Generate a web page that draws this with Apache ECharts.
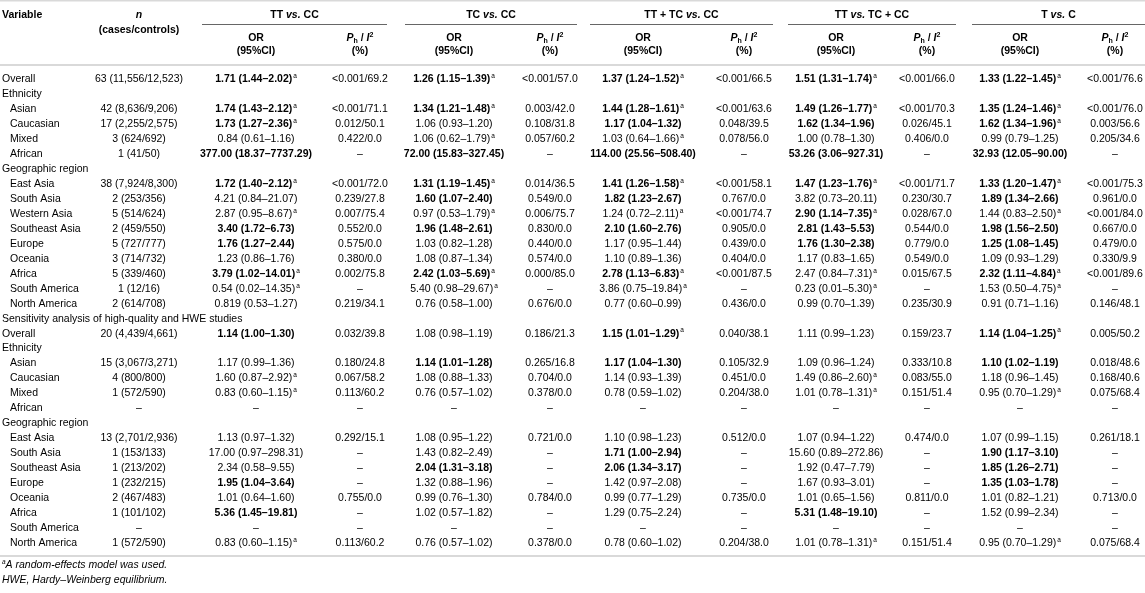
<!DOCTYPE html>
<html><head><meta charset="utf-8">
<script src="https://cdn.jsdelivr.net/npm/echarts@6/dist/echarts.min.js"></script>
<style>html,body{margin:0;padding:0;background:#fff}#c{width:1145px;height:593px}</style>
</head><body><div id="c"></div>
<script>
// ---------------- data ----------------
const rowLabels = ['Overall','Ethnicity','Asian','Caucasian','Mixed','African','Geographic region','East Asia','South Asia','Western Asia','Southeast Asia','Europe','Oceania','Africa','South America','North America','Sensitivity analysis of high-quality and HWE studies','Overall','Ethnicity','Asian','Caucasian','Mixed','African','Geographic region','East Asia','South Asia','Southeast Asia','Europe','Oceania','Africa','South America','North America'];
const nStudies = ['63 (11,556/12,523)',null,'42 (8,636/9,206)','17 (2,255/2,575)','3 (624/692)','1 (41/50)',null,'38 (7,924/8,300)','2 (253/356)','5 (514/624)','2 (459/550)','5 (727/777)','3 (714/732)','5 (339/460)','1 (12/16)','2 (614/708)',null,'20 (4,439/4,661)',null,'15 (3,067/3,271)','4 (800/800)','1 (572/590)','–',null,'13 (2,701/2,936)','1 (153/133)','1 (213/202)','1 (232/215)','2 (467/483)','1 (101/102)','–','1 (572/590)'];
// "^a" marks footnote a (random-effects model)
const orTTvsCC = ['1.71 (1.44–2.02)^a',null,'1.74 (1.43–2.12)^a','1.73 (1.27–2.36)^a','0.84 (0.61–1.16)','377.00 (18.37–7737.29)',null,'1.72 (1.40–2.12)^a','4.21 (0.84–21.07)','2.87 (0.95–8.67)^a','3.40 (1.72–6.73)','1.76 (1.27–2.44)','1.23 (0.86–1.76)','3.79 (1.02–14.01)^a','0.54 (0.02–14.35)^a','0.819 (0.53–1.27)',null,'1.14 (1.00–1.30)',null,'1.17 (0.99–1.36)','1.60 (0.87–2.92)^a','0.83 (0.60–1.15)^a','–',null,'1.13 (0.97–1.32)','17.00 (0.97–298.31)','2.34 (0.58–9.55)','1.95 (1.04–3.64)','1.01 (0.64–1.60)','5.36 (1.45–19.81)','–','0.83 (0.60–1.15)^a'];
const phTTvsCC = ['<0.001/69.2',null,'<0.001/71.1','0.012/50.1','0.422/0.0','–',null,'<0.001/72.0','0.239/27.8','0.007/75.4','0.552/0.0','0.575/0.0','0.380/0.0','0.002/75.8','–','0.219/34.1',null,'0.032/39.8',null,'0.180/24.8','0.067/58.2','0.113/60.2','–',null,'0.292/15.1','–','–','–','0.755/0.0','–','–','0.113/60.2'];
const orTCvsCC = ['1.26 (1.15–1.39)^a',null,'1.34 (1.21–1.48)^a','1.06 (0.93–1.20)','1.06 (0.62–1.79)^a','72.00 (15.83–327.45)',null,'1.31 (1.19–1.45)^a','1.60 (1.07–2.40)','0.97 (0.53–1.79)^a','1.96 (1.48–2.61)','1.03 (0.82–1.28)','1.08 (0.87–1.34)','2.42 (1.03–5.69)^a','5.40 (0.98–29.67)^a','0.76 (0.58–1.00)',null,'1.08 (0.98–1.19)',null,'1.14 (1.01–1.28)','1.08 (0.88–1.33)','0.76 (0.57–1.02)','–',null,'1.08 (0.95–1.22)','1.43 (0.82–2.49)','2.04 (1.31–3.18)','1.32 (0.88–1.96)','0.99 (0.76–1.30)','1.02 (0.57–1.82)','–','0.76 (0.57–1.02)'];
const phTCvsCC = ['<0.001/57.0',null,'0.003/42.0','0.108/31.8','0.057/60.2','–',null,'0.014/36.5','0.549/0.0','0.006/75.7','0.830/0.0','0.440/0.0','0.574/0.0','0.000/85.0','–','0.676/0.0',null,'0.186/21.3',null,'0.265/16.8','0.704/0.0','0.378/0.0','–',null,'0.721/0.0','–','–','–','0.784/0.0','–','–','0.378/0.0'];
const orDominant = ['1.37 (1.24–1.52)^a',null,'1.44 (1.28–1.61)^a','1.17 (1.04–1.32)','1.03 (0.64–1.66)^a','114.00 (25.56–508.40)',null,'1.41 (1.26–1.58)^a','1.82 (1.23–2.67)','1.24 (0.72–2.11)^a','2.10 (1.60–2.76)','1.17 (0.95–1.44)','1.10 (0.89–1.36)','2.78 (1.13–6.83)^a','3.86 (0.75–19.84)^a','0.77 (0.60–0.99)',null,'1.15 (1.01–1.29)^a',null,'1.17 (1.04–1.30)','1.14 (0.93–1.39)','0.78 (0.59–1.02)','–',null,'1.10 (0.98–1.23)','1.71 (1.00–2.94)','2.06 (1.34–3.17)','1.42 (0.97–2.08)','0.99 (0.77–1.29)','1.29 (0.75–2.24)','–','0.78 (0.60–1.02)'];
const phDominant = ['<0.001/66.5',null,'<0.001/63.6','0.048/39.5','0.078/56.0','–',null,'<0.001/58.1','0.767/0.0','<0.001/74.7','0.905/0.0','0.439/0.0','0.404/0.0','<0.001/87.5','–','0.436/0.0',null,'0.040/38.1',null,'0.105/32.9','0.451/0.0','0.204/38.0','–',null,'0.512/0.0','–','–','–','0.735/0.0','–','–','0.204/38.0'];
const orRecessive = ['1.51 (1.31–1.74)^a',null,'1.49 (1.26–1.77)^a','1.62 (1.34–1.96)','1.00 (0.78–1.30)','53.26 (3.06–927.31)',null,'1.47 (1.23–1.76)^a','3.82 (0.73–20.11)','2.90 (1.14–7.35)^a','2.81 (1.43–5.53)','1.76 (1.30–2.38)','1.17 (0.83–1.65)','2.47 (0.84–7.31)^a','0.23 (0.01–5.30)^a','0.99 (0.70–1.39)',null,'1.11 (0.99–1.23)',null,'1.09 (0.96–1.24)','1.49 (0.86–2.60)^a','1.01 (0.78–1.31)^a','–',null,'1.07 (0.94–1.22)','15.60 (0.89–272.86)','1.92 (0.47–7.79)','1.67 (0.93–3.01)','1.01 (0.65–1.56)','5.31 (1.48–19.10)','–','1.01 (0.78–1.31)^a'];
const phRecessive = ['<0.001/66.0',null,'<0.001/70.3','0.026/45.1','0.406/0.0','–',null,'<0.001/71.7','0.230/30.7','0.028/67.0','0.544/0.0','0.779/0.0','0.549/0.0','0.015/67.5','–','0.235/30.9',null,'0.159/23.7',null,'0.333/10.8','0.083/55.0','0.151/51.4','–',null,'0.474/0.0','–','–','–','0.811/0.0','–','–','0.151/51.4'];
const orAllele = ['1.33 (1.22–1.45)^a',null,'1.35 (1.24–1.46)^a','1.62 (1.34–1.96)^a','0.99 (0.79–1.25)','32.93 (12.05–90.00)',null,'1.33 (1.20–1.47)^a','1.89 (1.34–2.66)','1.44 (0.83–2.50)^a','1.98 (1.56–2.50)','1.25 (1.08–1.45)','1.09 (0.93–1.29)','2.32 (1.11–4.84)^a','1.53 (0.50–4.75)^a','0.91 (0.71–1.16)',null,'1.14 (1.04–1.25)^a',null,'1.10 (1.02–1.19)','1.18 (0.96–1.45)','0.95 (0.70–1.29)^a','–',null,'1.07 (0.99–1.15)','1.90 (1.17–3.10)','1.85 (1.26–2.71)','1.35 (1.03–1.78)','1.01 (0.82–1.21)','1.52 (0.99–2.34)','–','0.95 (0.70–1.29)^a'];
const phAllele = ['<0.001/76.6',null,'<0.001/76.0','0.003/56.6','0.205/34.6','–',null,'<0.001/75.3','0.961/0.0','<0.001/84.0','0.667/0.0','0.479/0.0','0.330/9.9','<0.001/89.6','–','0.146/48.1',null,'0.005/50.2',null,'0.018/48.6','0.168/40.6','0.075/68.4','–',null,'0.261/18.1','–','–','–','0.713/0.0','–','–','0.075/68.4'];
const comparisonTitles = [['TT','vs.','CC'],['TC','vs.','CC'],['TT + TC','vs.','CC'],['TT','vs.','TC + CC'],['T','vs.','C']];
const footnoteA = 'A random-effects model was used.';
const footnoteHWE = 'HWE, Hardy–Weinberg equilibrium.';

// ---------------- layout / style ----------------
const FONT = '"Liberation Sans", Arial, Helvetica, sans-serif';
const FS = 10.5;
const colX = [2, 139, 256, 360, 454, 550, 643, 744, 836, 927, 1020, 1115];
const groupSpan = [[202,387],[405,577],[590,773],[788,956],[972,1145]];
const INDENT = 8;
const C_REG = '#666666', C_BOLD = '#151515', C_HEAD = '#2a2a2a', C_LINE = '#d9d9d9';

const columns = [nStudies, orTTvsCC, phTTvsCC, orTCvsCC, phTCvsCC, orDominant, phDominant, orRecessive, phRecessive, orAllele, phAllele];
const OR_COLS = [2, 4, 6, 8, 10];

const rich = {
  r:  {fontFamily: FONT, fontSize: FS, color: C_REG, lineHeight: 13},
  b:  {fontFamily: FONT, fontSize: FS, fontWeight: 'bold', color: C_BOLD, lineHeight: 13},
  rs: {fontFamily: FONT, fontSize: 6.5, color: C_REG, lineHeight: 7, verticalAlign: 'top', padding: [0,0,0,1]},
  bs: {fontFamily: FONT, fontSize: 6.5, color: C_BOLD, lineHeight: 7, verticalAlign: 'top', padding: [0,0,0,1]}
};

function isSignificant(core) {
  const m = core.match(/\(([\d.]+)–/);
  return !!m && parseFloat(m[1]) >= 1;
}
function cellRich(c, r) {
  if (c === 0) return '{r|' + rowLabels[r] + '}';
  const v = columns[c - 1][r];
  const sup = v.endsWith('^a');
  const core = sup ? v.slice(0, -2) : v;
  const bold = OR_COLS.includes(c) && isSignificant(core);
  const k = bold ? 'b' : 'r';
  return '{' + k + '|' + core + '}' + (sup ? '{' + k + 's|a}' : '');
}

const cells = [];
rowLabels.forEach((lab, r) => {
  cells.push([0, r]);
  columns.forEach((arr, ci) => { if (arr[r] != null) cells.push([ci + 1, r]); });
});

// ---------------- header graphics ----------------
const hRich = {
  h:  {fontFamily: FONT, fontSize: FS, fontWeight: 'bold', color: C_HEAD, lineHeight: 13},
  hi: {fontFamily: FONT, fontSize: FS, fontWeight: 'bold', fontStyle: 'italic', color: C_HEAD, lineHeight: 13},
  sub:{fontFamily: FONT, fontSize: 7, fontWeight: 'bold', color: C_HEAD, lineHeight: 7, verticalAlign: 'bottom'},
  sup:{fontFamily: FONT, fontSize: 7, fontWeight: 'bold', color: C_HEAD, lineHeight: 7, verticalAlign: 'top'},
  fi: {fontFamily: FONT, fontSize: FS, fontStyle: 'italic', color: C_REG, lineHeight: 13},
  fs: {fontFamily: FONT, fontSize: 6.5, fontStyle: 'italic', color: C_REG, lineHeight: 7, verticalAlign: 'top'}
};
function hText(x, y, text, align) {
  return {type: 'text', x: x, y: y, style: {text: text, rich: hRich, align: align || 'center', verticalAlign: 'middle'}};
}
const Y_T1 = 15, Y_GL = 24, Y_CC = 30, Y_T2 = 38, Y_T3 = 51, Y_HL = 65, Y_BL = 556, Y_F1 = 565, Y_F2 = 580;
const graphics = [
  {type: 'rect', shape: {x: 0, y: 0, width: 1145, height: 1.5}, style: {fill: C_LINE}},
  {type: 'rect', shape: {x: 0, y: Y_HL - 1, width: 1145, height: 2}, style: {fill: C_LINE}},
  {type: 'rect', shape: {x: 0, y: Y_BL - 1, width: 1145, height: 2}, style: {fill: C_LINE}},
  hText(2, Y_T1, '{h|Variable}', 'left'),
  hText(colX[1], Y_T1, '{hi|n}'),
  hText(colX[1], Y_CC, '{h|(cases/controls)}')
];
comparisonTitles.forEach((t, g) => {
  const [a, b] = groupSpan[g];
  graphics.push(hText((a + b) / 2, Y_T1, '{h|' + t[0] + ' }{hi|' + t[1] + '}{h| ' + t[2] + '}'));
  graphics.push({type: 'rect', shape: {x: a, y: Y_GL, width: b - a, height: 1}, style: {fill: '#666'}});
  const ox = colX[2 + 2 * g], px = colX[3 + 2 * g];
  graphics.push(hText(ox, Y_T2, '{h|OR}'));
  graphics.push(hText(ox, Y_T3, '{h|(95%CI)}'));
  graphics.push(hText(px, Y_T2, '{hi|P}{sub|h}{h| / }{hi|I}{sup|2}'));
  graphics.push(hText(px, Y_T3, '{h|(%)}'));
});
graphics.push(hText(2, Y_F1, '{fs|a}{fi|' + footnoteA + '}', 'left'));
graphics.push(hText(2, Y_F2, '{fi|' + footnoteHWE + '}', 'left'));

// ---------------- chart ----------------
const ROW0 = 79.5, ROWH = 14.95;
const chart = echarts.init(document.getElementById('c'), null, {renderer: 'canvas'});
chart.setOption({
  animation: false,
  backgroundColor: '#fff',
  grid: {left: 0, right: 0, top: ROW0 - ROWH / 2, height: ROWH * rowLabels.length},
  xAxis: {type: 'value', min: 0, max: 1145, show: false},
  yAxis: {type: 'category', data: rowLabels, inverse: true, show: false},
  graphic: graphics,
  series: [{
    type: 'custom',
    clip: false,
    data: cells,
    renderItem: function (params, api) {
      const c = api.value(0), r = api.value(1);
      const pt = api.coord([colX[c], r]);
      let x = pt[0];
      if (c === 0 && nStudies[r] != null && rowLabels[r] !== 'Overall') x += INDENT;
      return {
        type: 'text',
        x: x, y: pt[1],
        style: {text: cellRich(c, r), rich: rich, align: c === 0 ? 'left' : 'center', verticalAlign: 'middle'}
      };
    }
  }]
});
</script></body></html>
